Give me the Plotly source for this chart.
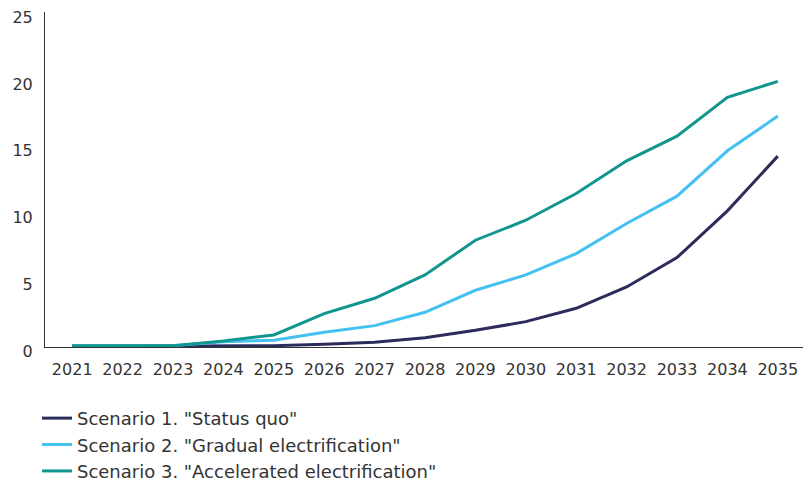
import plotly.graph_objects as go

years = ["2021", "2022", "2023", "2024", "2025", "2026", "2027", "2028",
         "2029", "2030", "2031", "2032", "2033", "2034", "2035"]
status_quo = [0.05, 0.05, 0.05, 0.1, 0.1, 0.2, 0.35, 0.7, 1.25, 1.9, 2.9, 4.5, 6.7, 10.2, 14.3]
gradual = [0.1, 0.1, 0.1, 0.4, 0.5, 1.1, 1.6, 2.6, 4.25, 5.4, 7.0, 9.25, 11.3, 14.7, 17.3]
accelerated = [0.1, 0.1, 0.1, 0.45, 0.9, 2.5, 3.65, 5.4, 8.0, 9.5, 11.5, 13.95, 15.8, 18.7, 19.9]

names = ['Scenario 1. "Status quo"', 'Scenario 2. "Gradual electrification"',
         'Scenario 3. "Accelerated electrification"']
colors = ["#2b2b5c", "#45c1f1", "#10958f"]
series = [status_quo, gradual, accelerated]

fig = go.Figure()
for name, col, vals in zip(names, colors, series):
    fig.add_trace(go.Scatter(x=years, y=vals, name=name, mode="lines",
                             line=dict(color=col, width=3)))

FAM = "DejaVu Sans, sans-serif"
fig.update_layout(
    width=809, height=480,
    margin=dict(l=45, r=6, t=12, b=133, autoexpand=False),
    paper_bgcolor="white", plot_bgcolor="white",
    font=dict(family=FAM, size=16, color="#333333"),
    showlegend=True,
    legend=dict(x=-0.0106, xanchor="left", y=-0.158, yanchor="top",
                font=dict(family=FAM, size=18, color="#333333"),
                tracegroupgap=0, itemwidth=30, traceorder="normal"),
    xaxis=dict(type="category", range=[-0.54, 14.5], showgrid=False, zeroline=False,
               showline=True, linecolor="#333333", linewidth=1, ticks="",
               ticklabelstandoff=8, automargin=False, fixedrange=True),
    yaxis=dict(range=[0, 25.1], tickvals=[0, 5, 10, 15, 20, 25], showgrid=False,
               zeroline=False, showline=True, linecolor="#333333", linewidth=1,
               ticks="", ticklabelstandoff=8, ticklabelshift=4,
               automargin=False, fixedrange=True),
)
fig.write_html("out.html", post_script="document.body.style.margin='0';",
               config={"displayModeBar": False})
